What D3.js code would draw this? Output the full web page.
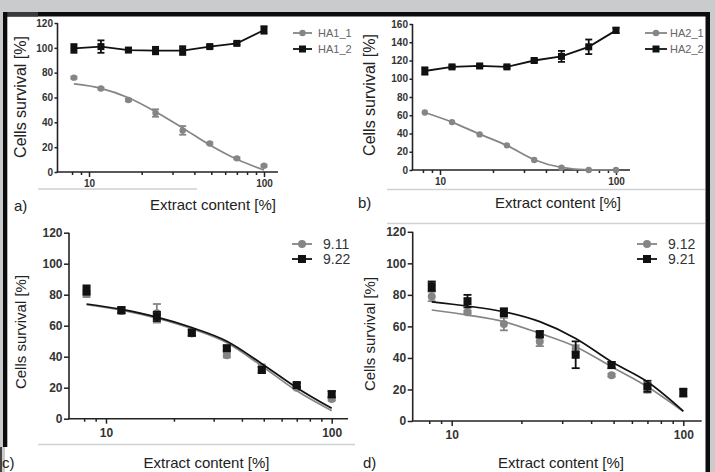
<!DOCTYPE html>
<html>
<head>
<meta charset="utf-8">
<script src="https://cdn.jsdelivr.net/npm/d3@7"></script>
<style>
  body { margin: 0; background: #c9cbcd; }
  svg { display: block; font-family: "Liberation Sans", Arial, sans-serif; }
</style>
</head>
<body>
<svg id="fig" width="715" height="472"></svg>
<script>
// concentrations (x) shared by all panels
var conc = [8.2, 11.7, 16.8, 24, 34.3, 49, 70, 100];
var xMajor = [10, 100];
var xMinor = [8, 9, 20, 30, 40, 50, 60, 70, 80, 90];
var yTicks120 = [0, 20, 40, 60, 80, 100, 120];
var yTicks160 = [0, 20, 40, 60, 80, 100, 120, 140, 160];

// panel a
var ha1_1 = [76, 67.2, 58, 47.5, 33.5, 23, 11, 5];
var ha1_1Err = [0.8, 0.8, 1, 3, 3.5, 0.8, 0.8, 0.8];
var ha1_1Fit = [70.9, 67.4, 59.8, 48.6, 35.5, 21.7, 10.2, 1.6];
var ha1_2 = [99.5, 101, 98.2, 97.8, 97.8, 101, 103.6, 114.4];
var ha1_2Err = [3.5, 5, 1.5, 3, 3.5, 1.2, 1.2, 3];

// panel b
var ha2_1 = [63, 52.5, 39, 27, 11, 2.5, 0, 0];
var ha2_1Err = [0.5, 0.5, 0.5, 0.5, 0.5, 0.5, 0, 0];
var ha2_1Fit = [63, 52.5, 39.3, 26.8, 11.3, 2.8, 0.2, 0];
var ha2_2 = [108.5, 113, 114, 113, 120, 124.5, 135, 153];
var ha2_2Err = [4, 1.5, 1.5, 1.5, 2, 6, 8, 3];

// panel c
var s911 = [80.5, 69.5, 68, 55, 41, 33, 20, 12.7];
var s911Err = [2, 1.5, 6, 1.5, 1.5, 2, 1, 1];
var s911Fit = [73.5, 70, 64.8, 58, 49, 34, 18, 5.2];
var s922 = [83, 70, 66, 55.5, 45.5, 31.5, 21.7, 15.8];
var s922Err = [3, 2, 3, 2, 1.5, 2, 1.5, 2];
var s922Fit = [74, 70.5, 65.5, 58.8, 50, 35.5, 20, 6.7];

// panel d
var s912 = [79, 69, 61.5, 50.5, 46, 29, 20, null];
var s912Err = [3, 1, 4, 3, 2, 1, 2, 0];
var s912Fit = [70.4, 67.2, 63, 55.6, 47.1, 34.4, 21.7, 6];
var s921 = [85.5, 76, 69, 55, 42, 35.5, 22, 18];
var s921Err = [3, 4, 2.5, 2, 8.5, 2, 3.5, 2.5];
var s921Fit = [75.6, 72.9, 69.3, 63, 52.4, 37.6, 24.9, 6.3];

var GRAY = "#858585", BLACK = "#111";

var panels = [
  { tag: "a)", x10: 89, x100: 264, axR: 278, ax: 57.5, y0: 172, yTop: 23, yMax: 120, yTicks: yTicks120,
    tickFont: 10, ytick: 3, ylab: [26, 97, 16], xlab: [213, 210], tagPos: [14, 211], xtickY: 187,
    legend: { x0: 293, x1: 312, tx: 318, rows: [33, 49], font: 11, color: "#666" },
    mk: { r: 3.2, sq: 7, cap: 7 },
    series: [
      { name: "HA1_1", color: GRAY, shape: "circle", vals: ha1_1, err: ha1_1Err, fit: ha1_1Fit },
      { name: "HA1_2", color: BLACK, shape: "square", vals: ha1_2, err: ha1_2Err, fit: null }
    ] },
  { tag: "b)", x10: 440, x100: 616, axR: 630, ax: 412.5, y0: 170, yTop: 24, yMax: 160, yTicks: yTicks160,
    tickFont: 10, ytick: 3, ylab: [375, 95, 16], xlab: [558, 208], tagPos: [358, 208], xtickY: 185,
    legend: { x0: 645, x1: 667, tx: 670, rows: [33, 49], font: 11, color: "#666" },
    mk: { r: 3.2, sq: 7, cap: 7 },
    series: [
      { name: "HA2_1", color: GRAY, shape: "circle", vals: ha2_1, err: ha2_1Err, fit: ha2_1Fit },
      { name: "HA2_2", color: BLACK, shape: "square", vals: ha2_2, err: ha2_2Err, fit: null }
    ] },
  { tag: "c)", x10: 106, x100: 331.7, axR: 348, ax: 69, y0: 418.7, yTop: 232.7, yMax: 120, yTicks: yTicks120,
    tickFont: 12, ytick: 5, ylab: [25.5, 332, 15], xlab: [206.5, 468], tagPos: [2, 468], xtickY: 437,
    legend: { x0: 292, x1: 312, tx: 323, rows: [244, 259], font: 14, color: "#333" },
    mk: { r: 4, sq: 8, cap: 8 },
    series: [
      { name: "9.11", color: GRAY, shape: "circle", vals: s911, err: s911Err, fit: s911Fit },
      { name: "9.22", color: BLACK, shape: "square", vals: s922, err: s922Err, fit: s922Fit }
    ] },
  { tag: "d)", x10: 451.7, x100: 683.3, axR: 701.7, ax: 412.7, y0: 421, yTop: 231.8, yMax: 120, yTicks: yTicks120,
    tickFont: 12, ytick: 5, ylab: [374.5, 334, 15], xlab: [561, 468], tagPos: [363, 468], xtickY: 439,
    legend: { x0: 637, x1: 657, tx: 668, rows: [244, 259], font: 14, color: "#333" },
    mk: { r: 4, sq: 8, cap: 8 },
    series: [
      { name: "9.12", color: GRAY, shape: "circle", vals: s912, err: s912Err, fit: s912Fit },
      { name: "9.21", color: BLACK, shape: "square", vals: s921, err: s921Err, fit: s921Fit }
    ] }
];

var svg = d3.select("#fig");

// white sheet with black frame
svg.append("rect").attr("x", 5).attr("y", 14).attr("width", 702).attr("height", 458).attr("fill", "#fff");
// faint separator lines
[[38, 197, 189], [387, 705, 189.5], [387, 705, 223.5], [38, 355, 444.5]].forEach(function(l) {
  svg.append("line").attr("x1", l[0]).attr("x2", l[1]).attr("y1", l[2]).attr("y2", l[2])
    .attr("stroke", "#cfd1d3").attr("stroke-width", 1.5);
});

panels.forEach(function(p) {
  var x = d3.scaleLog().domain([10, 100]).range([p.x10, p.x100]);
  var y = d3.scaleLinear().domain([0, p.yMax]).range([p.y0, p.yTop]);
  var g = svg.append("g");

  // axes lines
  g.append("line").attr("x1", p.ax).attr("x2", p.ax).attr("y1", p.y0).attr("y2", p.yTop)
    .attr("stroke", "#222").attr("stroke-width", 1.6);
  g.append("line").attr("x1", p.ax - 0.8).attr("x2", p.axR).attr("y1", p.y0).attr("y2", p.y0)
    .attr("stroke", "#222").attr("stroke-width", 1.6);

  // y axis
  var ya = g.append("g").attr("transform", "translate(" + p.ax + ",0)")
    .call(d3.axisLeft(y).tickValues(p.yTicks).tickSize(p.ytick).tickPadding(1.5).tickFormat(d3.format("d")));
  ya.select(".domain").remove();
  ya.selectAll("line").attr("stroke", "#222").attr("stroke-width", 1.5);
  ya.selectAll("text").attr("font-size", p.tickFont).attr("font-weight", "bold").attr("fill", "#333")
    .attr("font-family", "Liberation Sans, Arial, sans-serif");

  // x axis: minor then major
  var xm = g.append("g").attr("transform", "translate(0," + p.y0 + ")")
    .call(d3.axisBottom(x).tickValues(xMinor).tickSize(3).tickFormat(""));
  xm.select(".domain").remove();
  xm.selectAll("line").attr("stroke", "#222").attr("stroke-width", 1.5);
  var xa = g.append("g").attr("transform", "translate(0," + p.y0 + ")")
    .call(d3.axisBottom(x).tickValues(xMajor).tickSize(5).tickFormat(d3.format("d")));
  xa.select(".domain").remove();
  xa.selectAll("line").attr("stroke", "#222").attr("stroke-width", 1.5);
  xa.selectAll("text").attr("y", null).attr("dy", null)
    .attr("transform", "translate(0," + (p.xtickY - p.y0) + ")")
    .attr("font-size", p.tickFont).attr("font-weight", "bold").attr("fill", "#333")
    .attr("font-family", "Liberation Sans, Arial, sans-serif");

  // titles
  g.append("text").attr("transform", "translate(" + p.ylab[0] + "," + p.ylab[1] + ") rotate(-90)")
    .attr("text-anchor", "middle").attr("font-size", p.ylab[2]).attr("fill", "#222").text("Cells survival [%]");
  g.append("text").attr("x", p.xlab[0]).attr("y", p.xlab[1]).attr("text-anchor", "middle")
    .attr("font-size", 15).attr("fill", "#222").text("Extract content [%]");
  g.append("text").attr("x", p.tagPos[0]).attr("y", p.tagPos[1])
    .attr("font-size", 15).attr("fill", "#222").text(p.tag);

  // series
  p.series.forEach(function(s) {
    var pts = conc.map(function(c, i) { return { c: c, v: s.vals[i], e: s.err[i] }; })
      .filter(function(d) { return d.v !== null; });

    var line = d3.line().x(function(d) { return x(d[0]); }).y(function(d) { return y(d[1]); });
    if (s.fit) {
      line.curve(d3.curveMonotoneX);
      g.append("path").datum(conc.map(function(c, i) { return [c, s.fit[i]]; }))
        .attr("d", line).attr("fill", "none").attr("stroke", s.color).attr("stroke-width", 1.7);
    } else {
      g.append("path").datum(pts.map(function(d) { return [d.c, d.v]; }))
        .attr("d", line).attr("fill", "none").attr("stroke", s.color).attr("stroke-width", 1.8);
    }

    // error bars
    var eb = g.append("g").attr("stroke", s.color).attr("stroke-width", 1.8);
    pts.filter(function(d) { return d.e > 0.6; }).forEach(function(d) {
      var cx = x(d.c), hw = p.mk.cap / 2;
      eb.append("line").attr("x1", cx).attr("x2", cx).attr("y1", y(d.v + d.e)).attr("y2", y(d.v - d.e));
      eb.append("line").attr("x1", cx - hw).attr("x2", cx + hw).attr("y1", y(d.v + d.e)).attr("y2", y(d.v + d.e));
      eb.append("line").attr("x1", cx - hw).attr("x2", cx + hw).attr("y1", y(d.v - d.e)).attr("y2", y(d.v - d.e));
    });

    // markers
    if (s.shape === "circle") {
      g.selectAll(null).data(pts).enter().append("circle")
        .attr("cx", function(d) { return x(d.c); }).attr("cy", function(d) { return y(d.v); })
        .attr("r", p.mk.r).attr("fill", s.color);
    } else {
      g.selectAll(null).data(pts).enter().append("rect")
        .attr("x", function(d) { return x(d.c) - p.mk.sq / 2; }).attr("y", function(d) { return y(d.v) - p.mk.sq / 2; })
        .attr("width", p.mk.sq).attr("height", p.mk.sq).attr("fill", s.color);
    }
  });

  // legend
  var L = p.legend;
  p.series.forEach(function(s, i) {
    var ry = L.rows[i], mx = (L.x0 + L.x1) / 2;
    g.append("line").attr("x1", L.x0).attr("x2", L.x1).attr("y1", ry).attr("y2", ry)
      .attr("stroke", s.color).attr("stroke-width", 1.8);
    if (s.shape === "circle") {
      g.append("circle").attr("cx", mx).attr("cy", ry).attr("r", p.mk.r).attr("fill", s.color);
    } else {
      g.append("rect").attr("x", mx - p.mk.sq / 2).attr("y", ry - p.mk.sq / 2)
        .attr("width", p.mk.sq).attr("height", p.mk.sq).attr("fill", s.color);
    }
    g.append("text").attr("x", L.tx).attr("y", ry).attr("dy", "0.36em")
      .attr("font-size", L.font).attr("fill", L.color).text(s.name);
  });
});

// frame on top
svg.append("rect").attr("x", 3).attr("y", 12).attr("width", 707).attr("height", 4.5).attr("fill", "#0c0c0c");
svg.append("rect").attr("x", 3).attr("y", 12).attr("width", 35).attr("height", 4.5).attr("fill", "#3a3a3a");
svg.append("rect").attr("x", 3).attr("y", 12).attr("width", 4.3).attr("height", 435).attr("fill", "#0c0c0c");
svg.append("rect").attr("x", 705.5).attr("y", 12).attr("width", 4.5).attr("height", 460).attr("fill", "#0c0c0c");
svg.append("rect").attr("x", 0).attr("y", 447).attr("width", 2).attr("height", 25).attr("fill", "#444");
</script>
</body>
</html>
